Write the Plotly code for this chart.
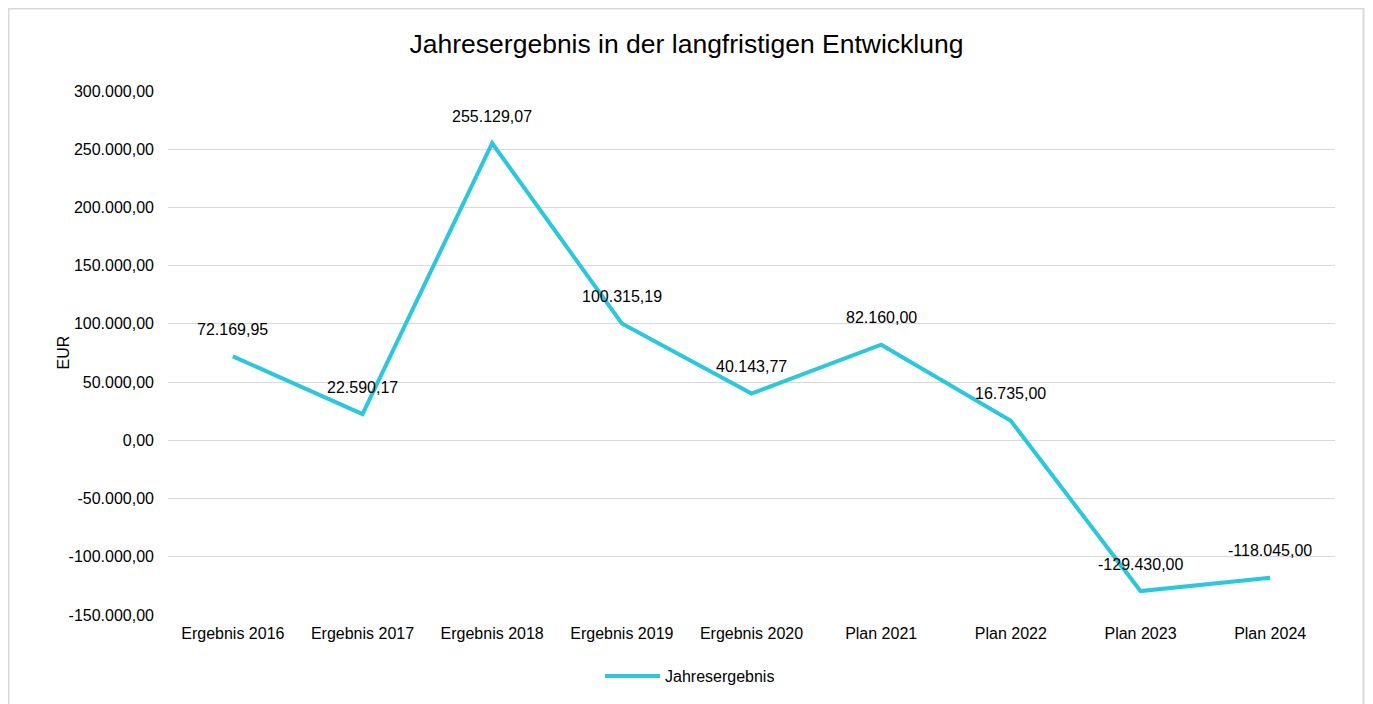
import plotly.graph_objects as go

categories = ["Ergebnis 2016", "Ergebnis 2017", "Ergebnis 2018", "Ergebnis 2019", "Ergebnis 2020",
              "Plan 2021", "Plan 2022", "Plan 2023", "Plan 2024"]
jahresergebnis = [72169.95, 22590.17, 255129.07, 100315.19, 40143.77, 82160.00, 16735.00, -129430.00, -118045.00]
series_name = "Jahresergebnis"
tick_values = [-150000, -100000, -50000, 0, 50000, 100000, 150000, 200000, 250000, 300000]


def de_fmt(v):
    return f"{v:,.2f}".replace(",", "X").replace(".", ",").replace("X", ".")


tick_text = [de_fmt(v) for v in tick_values]

FONT = "Liberation Sans, Arial, sans-serif"
LINE_COLOR = "#2cc7db"
GRID = "#d9d9d9"

W, H = 1357, 696
PL, PR, PT, PB = 160, 1327, 83, 607  # plot area in figure pixels
pw, ph = PR - PL, PB - PT

fig = go.Figure()
fig.add_trace(go.Scatter(
    x=categories, y=jahresergebnis, mode="lines", name=series_name,
    line=dict(color=LINE_COLOR, width=4),
    hovertemplate="%{x}: %{y:,.2f}<extra></extra>",
))

for c, v in zip(categories, jahresergebnis):
    fig.add_annotation(x=c, y=v, text=de_fmt(v), showarrow=False, yshift=27,
                       font=dict(family=FONT, size=16, color="#000000"))

fig.add_annotation(xref="paper", yref="paper", x=(44 - PL) / pw, y=0.5, text="EUR",
                   textangle=-90, showarrow=False, font=dict(family=FONT, size=16, color="#000000"))

# chart border
fig.add_shape(type="rect", xref="paper", yref="paper",
              x0=(0.5 - PL) / pw, x1=(W - 1.5 - PL) / pw,
              y0=-0.3, y1=(PB - 0.5) / ph,
              line=dict(color=GRID, width=2), fillcolor="rgba(0,0,0,0)", layer="below")

fig.update_layout(
    width=W, height=H,
    margin=dict(l=PL, r=W - PR, t=PT, b=H - PB, pad=0),
    paper_bgcolor="white", plot_bgcolor="white",
    font=dict(family=FONT, size=16, color="#000000"),
    title=dict(text="Jahresergebnis in der langfristigen Entwicklung", x=0.5, xanchor="center",
               y=1 - 36 / H, yanchor="middle", font=dict(family=FONT, size=26.5, color="#000000")),
    showlegend=True,
    legend=dict(orientation="h", xref="container", yref="container", x=682 / W, xanchor="center",
                y=1 - 668 / H, yanchor="middle", font=dict(family=FONT, size=16, color="#000000"),
                itemwidth=55),
    xaxis=dict(type="category", range=[-0.5, 8.5], showgrid=False, showline=False, ticks="",
               tickfont=dict(family=FONT, size=16, color="#000000"), ticklabelstandoff=7),
    yaxis=dict(range=[-150000, 300000], tickvals=tick_values, ticktext=tick_text,
               showgrid=True, gridcolor=GRID, gridwidth=1, zeroline=True, zerolinecolor=GRID,
               zerolinewidth=1, showline=False, ticks="",
               tickfont=dict(family=FONT, size=16, color="#000000"), ticklabelstandoff=13),
)

fig.write_html("out.html")
